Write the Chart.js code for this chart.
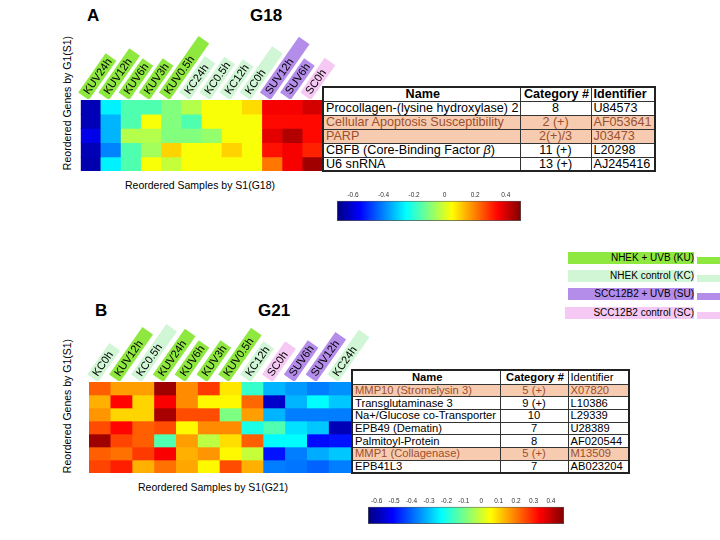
<!DOCTYPE html>
<html>
<head>
<meta charset="utf-8">
<script src="https://cdn.jsdelivr.net/npm/chart.js@4.4.0/dist/chart.umd.min.js"></script>
<style>
body{margin:0;width:720px;height:540px;background:#fff;position:relative;overflow:hidden;font-family:"Liberation Sans",Arial,sans-serif;}
canvas{position:absolute;}
.abs{position:absolute;white-space:nowrap;}
.panel{font-weight:bold;font-size:17px;line-height:17px;}
.axt{font-size:10.5px;line-height:12px;}
.ytit{width:200px;text-align:center;transform:rotate(-90deg);}
table.gt{position:absolute;border-collapse:collapse;table-layout:fixed;background:#fff;border:2px solid #222;z-index:2;}
table.gt td,table.gt th{border:1px solid #333;padding:0 0 0 2px;white-space:nowrap;overflow:hidden;}
table.gt th{font-weight:bold;text-align:center;border-top-color:#999;}
table.gt td.c{text-align:center;padding:0;}
table.gt tr.hl td{background:#f7cbb0;color:#9b4f2e;}
#tblA{font-size:12.6px;line-height:12px;}
#tblB{font-size:11.2px;line-height:11px;}
.lg{position:absolute;height:12px;font-size:10px;line-height:12px;text-align:right;}
.tab{position:absolute;height:7px;width:23px;left:697px;}
</style>
</head>
<body>

<div class="abs panel" style="left:87px;top:7px;">A</div>
<div class="abs panel" style="left:250px;top:7px;">G18</div>
<div class="abs axt ytit" style="left:-33px;top:97px;">Reordered Genes by G1(S1)</div>
<div class="abs axt" style="left:125px;top:179px;">Reordered Samples by S1(G18)</div>

<div class="abs panel" style="left:95px;top:302px;">B</div>
<div class="abs panel" style="left:258px;top:302px;">G21</div>
<div class="abs axt ytit" style="left:-33px;top:400px;">Reordered Genes by G1(S1)</div>
<div class="abs axt" style="left:138px;top:481px;">Reordered Samples by S1(G21)</div>

<canvas id="heatA" width="300" height="145" style="left:60px;top:30px;"></canvas>
<canvas id="barA" width="200" height="40" style="left:330px;top:185px;"></canvas>
<canvas id="heatB" width="320" height="168" style="left:60px;top:310px;"></canvas>
<canvas id="barB" width="210" height="40" style="left:360px;top:490px;"></canvas>

<table class="gt" id="tblA" style="left:322px;top:86px;width:334px;"></table>
<table class="gt" id="tblB" style="left:351px;top:369px;width:279px;"></table>

<div id="legend"></div>

<script>
// ---- G18 (panel A) ----
const samplesA = ['KUV24h','KUV12h','KUV6h','KUV3h','KUV0.5h','KC24h','KC0.5h','KC12h','KC0h','SUV12h','SUV6h','SC0h'];
const genesA = ['Procollagen-(lysine hydroxylase) 2','Cellular Apoptosis Susceptibility','PARP','CBFB (Core-Binding Factor <i>&beta;</i>)','U6 snRNA'];
const categoryA = ['8','2 (+)','2(+)/3','11 (+)','13 (+)'];
const identifierA = ['U84573','AF053641','J03473','L20298','AJ245416'];
const highlightA = [false,true,true,false,false];
const valuesA = [
  [-0.64,-0.27,-0.16,-0.16,-0.10,-0.04, 0.04, 0.04, 0.09, 0.36, 0.36, 0.40],
  [-0.64,-0.34,-0.16, 0.04,-0.10,-0.16, 0.04, 0.04, 0.04, 0.34, 0.34, 0.34],
  [-0.58,-0.34,-0.04,-0.04,-0.10,-0.10,-0.08, 0.04, 0.04, 0.38, 0.44, 0.34],
  [-0.64,-0.40,-0.16,-0.06, 0.10, 0.04, 0.04, 0.10, 0.04, 0.33, 0.36, 0.31],
  [-0.65,-0.27,-0.16, 0.04,-0.02, 0.04, 0.04, 0.04, 0.04, 0.21, 0.36, 0.46]
];
const rangeA = [-0.705, 0.5];
const ticksA = [-0.6,-0.4,-0.2,0,0.2,0.4];

// ---- G21 (panel B) ----
const samplesB = ['KC0h','KUV12h','KC0.5h','KUV24h','KUV6h','KUV3h','KUV0.5h','KC12h','SC0h','SUV6h','SUV12h','KC24h'];
const genesB = ['MMP10 (Stromelysin 3)','Transglutaminase 3','Na+/Glucose co-Transporter','EPB49 (Dematin)','Palmitoyl-Protein','MMP1 (Collagenase)','EPB41L3'];
const categoryB = ['5 (+)','9 (+)','10','7','8','5 (+)','7'];
const identifierB = ['X07820','L10386','L29339','U28389','AF020544','M13509','AB023204'];
const highlightB = [true,false,false,false,false,true,false];
const valuesB = [
  [0.23, 0.16, 0.16, 0.44, 0.18, 0.27, 0.08,-0.17,-0.31,-0.34,-0.37,-0.35],
  [0.14, 0.33, 0.10, 0.34, 0.18, 0.06, 0.06, 0.22,-0.57,-0.31,-0.23,-0.29],
  [0.17, 0.10, 0.10, 0.43, 0.25, 0.25,-0.09, 0.16,-0.31,-0.37,-0.37,-0.37],
  [0.25, 0.33, 0.23, 0.25, 0.06, 0.18, 0.18,-0.20,-0.14,-0.26,-0.29,-0.59],
  [0.44, 0.26, 0.23,-0.14, 0.16,-0.02, 0.09, 0.23,-0.23,-0.23,-0.50,-0.49],
  [0.23, 0.21, 0.27, 0.34, 0.14, 0.17, 0.06,-0.01,-0.49,-0.37,-0.32,-0.29],
  [0.26, 0.30, 0.14, 0.21, 0.15, 0.06, 0.25, 0.14,-0.37,-0.38,-0.40,-0.37]
];
const rangeB = [-0.65, 0.475];
const ticksB = [-0.6,-0.5,-0.4,-0.3,-0.2,-0.1,0,0.1,0.2,0.3,0.4];

// ---- groups / legend ----
const groupNames = ['NHEK + UVB (KU)','NHEK control (KC)','SCC12B2 + UVB (SU)','SCC12B2 control (SC)'];
const groupColors = ['#8fe840','#d0f6d6','#b48cea','#f6c8f4'];

// extra length of the coloured label boxes beyond the text (style only)
const boxExtraA = [0,6,0,0,18,4,0,0,22,20,0,8];
const boxExtraB = [4,10,18,8,0,0,6,0,6,0,4,14];

function groupOf(lab){
  if (lab.startsWith('KUV')) return 0;
  if (lab.startsWith('KC')) return 1;
  if (lab.startsWith('SUV')) return 2;
  return 3;
}

function jetT(t){
  t = Math.min(1, Math.max(0, t));
  const c = k => Math.round(255 * Math.min(1, Math.max(0, 1.5 - Math.abs(4 * t - k))));
  return `rgb(${c(3)},${c(2)},${c(1)})`;
}
function jet(v, range){ return jetT((v - range[0]) / (range[1] - range[0])); }

const sampleLabels = {
  id: 'sampleLabels',
  afterDraw(chart, args, opts){
    const {ctx, chartArea, scales: {x}} = chart;
    ctx.save();
    ctx.beginPath();
    ctx.rect(0, 0, chart.width, chartArea.top - 1);
    ctx.clip();
    ctx.font = '11px "Liberation Sans", Arial, sans-serif';
    ctx.textBaseline = 'middle';
    chart.data.labels.forEach((lab, i) => {
      const cx = x.getPixelForValue(i);
      const w = ctx.measureText(lab).width;
      ctx.save();
      ctx.translate(cx - 5, chartArea.top - 7);
      ctx.rotate(-55 * Math.PI / 180);
      ctx.fillStyle = groupColors[groupOf(lab)];
      ctx.fillRect(-4, -6.5, w + 7 + opts.extra[i], 13);
      ctx.fillStyle = '#000';
      ctx.fillText(lab, 0, 0.5);
      ctx.restore();
    });
    ctx.restore();
  }
};

function heatmap(id, samples, values, range, pad, extra){
  new Chart(document.getElementById(id), {
    type: 'bar',
    data: {
      labels: samples,
      datasets: values.map(row => ({
        data: row.map(() => 1),
        backgroundColor: row.map(v => jet(v, range)),
        borderWidth: 0,
        barPercentage: 1,
        categoryPercentage: 1
      }))
    },
    options: {
      responsive: false,
      animation: false,
      layout: {padding: pad},
      plugins: {legend: {display: false}, tooltip: {enabled: false}, sampleLabels: {extra: extra}},
      scales: {
        x: {display: false, stacked: true},
        y: {display: false, stacked: true, min: 0, max: values.length, reverse: true}
      }
    },
    plugins: [sampleLabels]
  });
}

function colorBar(id, range, ticks, pad){
  const [lo, hi] = range;
  new Chart(document.getElementById(id), {
    type: 'bar',
    data: {
      labels: [''],
      datasets: [{
        data: [[lo, hi]],
        backgroundColor: c => {
          const ch = c.chart;
          if (!ch.chartArea) return '#000';
          const xs = ch.scales.x;
          const g = ch.ctx.createLinearGradient(xs.getPixelForValue(lo), 0, xs.getPixelForValue(hi), 0);
          for (let i = 0; i <= 32; i++) g.addColorStop(i / 32, jetT(i / 32));
          return g;
        },
        borderColor: '#555',
        borderWidth: 1,
        borderSkipped: false,
        barPercentage: 1,
        categoryPercentage: 1
      }]
    },
    options: {
      indexAxis: 'y',
      responsive: false,
      animation: false,
      layout: {padding: pad},
      plugins: {legend: {display: false}, tooltip: {enabled: false}},
      scales: {
        x: {
          position: 'top', min: lo, max: hi,
          grid: {display: false, drawTicks: false}, border: {display: false},
          afterBuildTicks: s => { s.ticks = ticks.map(v => ({value: v})); },
          ticks: {font: {size: 6.5}, color: '#333', padding: 2, autoSkip: false, maxRotation: 0,
                  callback: v => String(v)}
        },
        y: {display: false}
      }
    }
  });
}

function fillTable(id, names, cats, ids, hl, boldId, sizes){
  const t = document.getElementById(id);
  let h = `<colgroup><col style="width:${sizes[0]}px"><col style="width:${sizes[1]}px"><col style="width:${sizes[2]}px"></colgroup>`;
  h += `<tr style="height:${sizes[3]}px"><th>Name</th><th>Category #</th><th style="text-align:left;${boldId ? '' : 'font-weight:normal;'}">Identifier</th></tr>`;
  names.forEach((n, i) => {
    h += `<tr class="${hl[i] ? 'hl' : ''}" style="height:${sizes[4]}px"><td>${n}</td><td class="c">${cats[i]}</td><td>${ids[i]}</td></tr>`;
  });
  t.innerHTML = h;
}

heatmap('heatA', samplesA, valuesA, rangeA, {left: 20.7, right: 37, top: 70, bottom: 4}, boxExtraA);
heatmap('heatB', samplesB, valuesB, rangeB, {left: 29, right: 29, top: 72, bottom: 5}, boxExtraB);
colorBar('barA', rangeA, ticksA, {left: 7, right: 9, top: 4, bottom: 4});
colorBar('barB', rangeB, ticksB, {left: 8, right: 6, top: 5, bottom: 6});

fillTable('tblA', genesA, categoryA, identifierA, highlightA, true, [197, 71, 64, 14, 14]);
fillTable('tblB', genesB, categoryB, identifierB, highlightB, false, [148, 68, 61, 14, 12.7]);

const lg = document.getElementById('legend');
const lgTops = [252, 270, 288, 307];
groupNames.forEach((n, i) => {
  const left = i === 3 ? 565 : 568;
  lg.innerHTML += `<div class="lg" style="left:${left}px;top:${lgTops[i]}px;width:${694 - left}px;background:${groupColors[i]};">${n}</div>` +
                  `<div class="tab" style="top:${lgTops[i] + 5}px;background:${groupColors[i]};"></div>`;
});
</script>
</body>
</html>
